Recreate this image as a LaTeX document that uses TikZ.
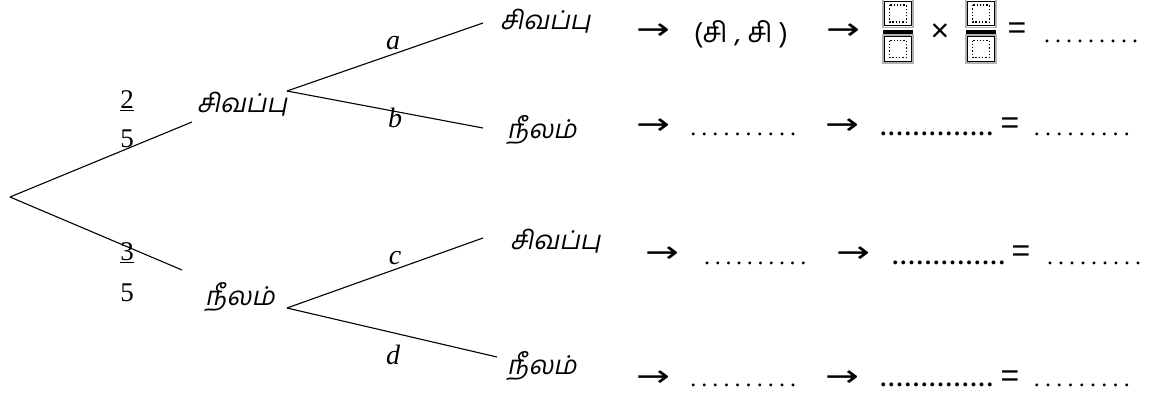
\documentclass[tikz,border=0pt]{standalone}
\usepackage{fontspec}
\setmainfont{Liberation Serif}
\newfontfamily\tamil[Script=Tamil,FakeSlant=0.2]{Hind Madurai}
\newfontfamily\tamilup[Script=Tamil]{Hind Madurai}
\newfontfamily\sym{Liberation Sans}
\newfontfamily\arrf{DejaVu Sans}
\newcount\dcnt
\newcommand\dotrow[2]{\dcnt=0\relax\loop\ifnum\dcnt<#1\relax\hbox to #2{\hss.\hss}\advance\dcnt by 1\relax\repeat}
\newcommand\rarr{\scalebox{1.35}[1]{→}}
\tikzset{
  br/.style={line width=1.1pt},
  lbl/.style={font=\fontsize{28}{28}\selectfont\itshape, inner sep=0pt},
  num/.style={font=\fontsize{27}{27}\selectfont, inner sep=0pt},
  tm/.style={font=\tamil\fontsize{26}{26}\selectfont, inner sep=0pt},
  pair/.style={font=\tamilup\fontsize{28}{28}\selectfont, inner sep=0pt},
  arr/.style={font=\arrf\fontsize{30}{30}\selectfont, inner sep=0pt},
  eq/.style={font=\sym\fontsize{32}{32}\selectfont, inner sep=0pt},
  dots/.style={font=\fontsize{24}{24}\selectfont, inner sep=0pt, anchor=base west},
  bdots/.style={dots, font=\fontsize{24}{24}\selectfont\bfseries},
  phb/.pic={
    \draw[gray!60, line width=1.2pt] (-15,-14) rectangle (15,14);
    \draw[black, line width=1pt] (-13.3,-12.3) rectangle (13.3,12.3);
    \draw[black, line width=1.3pt, dotted] (-8.5,-8.5) rectangle (8.5,8.5);
  }
}
\begin{document}
\begin{tikzpicture}[x=1pt,y=-1pt]
\useasboundingbox (0,0) rectangle (1166,394);
% tree
\coordinate (r) at (10,197);
\coordinate (u1) at (192,122);
\coordinate (l1) at (182,270);
\draw[br] (r) -- (u1);
\draw[br] (r) -- (l1);
\node[num] (f1n) at (127,101) {\underline{2}};
\node[num] (f1d) at (127,139) {5};
\node[num] (f2n) at (127,253) {\underline{3}};
\node[num] (f2d) at (127,293) {5};
\node[tm] (n1) at (242,104) {சிவப்பு};
\node[tm] (n2) at (240,297) {நீலம்};
\coordinate (p1) at (287,91);
\coordinate (p2) at (287,308);
\coordinate (e1) at (483,23);
\coordinate (e2) at (483,128);
\coordinate (e3) at (483,238);
\coordinate (e4) at (497,357);
\draw[br] (p1) -- (e1);
\draw[br] (p1) -- (e2);
\draw[br] (p2) -- (e3);
\draw[br] (p2) -- (e4);
\node[lbl] (la) at (393,43) {a};
\node[lbl] (lb) at (395,118) {b};
\node[lbl] (lc) at (395,258) {c};
\node[lbl] (ld) at (393,355) {d};
\node[tm,anchor=west] (L1) at (500,21) {சிவப்பு};
\node[tm,anchor=west] (L2) at (507,130) {நீலம்};
\node[tm,anchor=west] (L3) at (510,241) {சிவப்பு};
\node[tm,anchor=west] (L4) at (507,366) {நீலம்};
% row 1
\node[arr] (a11) at (653,32) {\rarr};
\node[pair] (pr) at (741,34) {(சி , சி )};
\node[arr] (a12) at (843,32) {\rarr};
\pic at (898,13.5) {phb};
\draw[line width=3.5pt] (883,32) -- (913,32);
\pic at (898,49) {phb};
\node[eq] (x1) at (940,33) {×};
\pic at (981,13.5) {phb};
\draw[line width=3.5pt] (966,32) -- (996,32);
\pic at (981,49) {phb};
\node[eq] (q1) at (1017,31) {=};
\node[dots] (d13) at (1041.5,42) {\dotrow{9}{11pt}};
% row 2
\node[arr] (a21) at (653,127) {\rarr};
\node[dots] (d21) at (687.5,135) {\dotrow{10}{11.1pt}};
\node[arr] (a22) at (842,127) {\rarr};
\node[bdots] (d22) at (879,135) {\dotrow{14}{8.2pt}};
\node[eq] (q2) at (1010,126) {=};
\node[dots] (d23) at (1031,135) {\dotrow{9}{11.25pt}};
% row 3
\node[arr] (a31) at (662,255) {\rarr};
\node[dots] (d31) at (701.6,264) {\dotrow{10}{10.7pt}};
\node[arr] (a32) at (853,255) {\rarr};
\node[bdots] (d32) at (891,264) {\dotrow{14}{8.2pt}};
\node[eq] (q3) at (1021,254) {=};
\node[dots] (d33) at (1044.5,264) {\dotrow{9}{11pt}};
% row 4
\node[arr] (a41) at (653,379) {\rarr};
\node[dots] (d41) at (687.5,386) {\dotrow{10}{11.1pt}};
\node[arr] (a42) at (842,379) {\rarr};
\node[bdots] (d42) at (879,386) {\dotrow{14}{8.2pt}};
\node[eq] (q4) at (1010,379) {=};
\node[dots] (d43) at (1031,386) {\dotrow{9}{11.25pt}};
\end{tikzpicture}
\end{document}
